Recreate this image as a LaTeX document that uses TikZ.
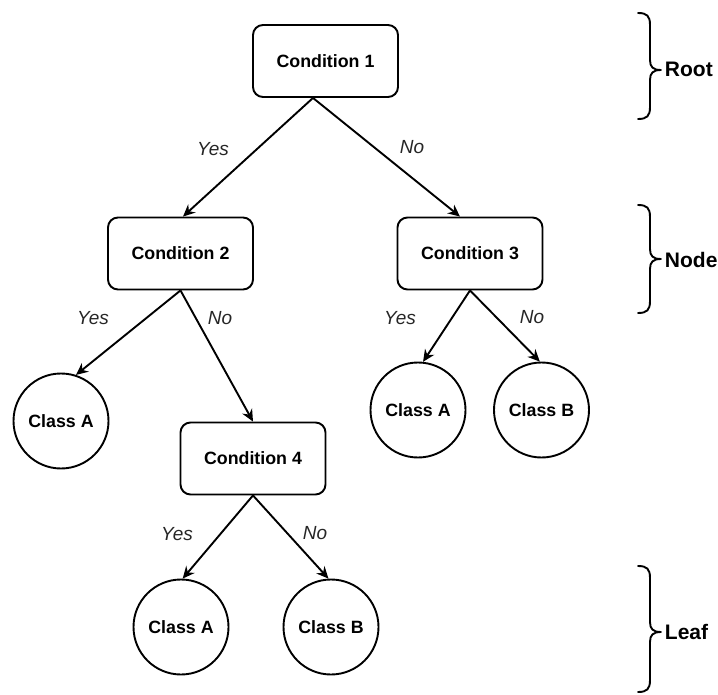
\documentclass[tikz,border=0pt]{standalone}
\usepackage{fontspec}
\setmainfont{Liberation Sans}
\usetikzlibrary{arrows.meta,calc}

% right-pointing curly brace: #1 top, #2 tip, #3 bottom
\newcommand\curlybrace[3]{%
  \draw[brace] (638,#1) .. controls (647,#1) and (650,{#1+3}) .. (650,{#1+12})
    -- (650,{#2-10}) .. controls (650,{#2-3}) and (653,#2) .. (661,#2)
    .. controls (653,#2) and (650,{#2+3}) .. (650,{#2+10})
    -- (650,{#3-12}) .. controls (650,{#3-3}) and (647,#3) .. (638,#3);}

\begin{document}
\begin{tikzpicture}[x=1pt,y=-1pt,
  line width=1.9pt,
  cond/.style={draw, rounded corners=10pt, minimum width=145pt, minimum height=72pt,
    inner sep=0pt, font=\fontsize{17.8}{20}\selectfont\bfseries},
  leaf/.style={draw, circle, minimum size=95pt, inner sep=0pt,
    font=\fontsize{17.8}{20}\selectfont\bfseries},
  edge/.style={-{Stealth[length=12pt,width=11pt,inset=4pt]}},
  ans/.style={font=\fontsize{19}{22}\selectfont\itshape, text=black!85},
  tier/.style={anchor=west, inner sep=0pt, font=\fontsize{21}{24}\selectfont\bfseries},
  brace/.style={line width=1.9pt, line cap=round, line join=round}
]
\useasboundingbox (0,0) rectangle (718,695);

% decision nodes
\node[cond] (c1) at (325.5,61) {Condition 1};
\node[cond] (c2) at (180.5,253.5) {Condition 2};
\node[cond] (c3) at (470,253.5) {Condition 3};
\node[cond] (c4) at (253,458.5) {Condition 4};

% leaves
\node[leaf] (a1) at (61,421) {Class A};
\node[leaf] (a2) at (418,410) {Class A};
\node[leaf] (b2) at (541.5,410) {Class B};
\node[leaf] (a3) at (181,627) {Class A};
\node[leaf] (b3) at (331,627) {Class B};

% branches
\draw[edge] ([xshift=-12.5pt]c1.south) -- ([xshift=2.5pt]c2.north);
\draw[edge] ([xshift=-12.5pt]c1.south) -- ([xshift=-10pt]c3.north);
\draw[edge] (c2.south) -- (a1.72);
\draw[edge] (c2.south) -- (c4.north);
\draw[edge] (c3.south) -- (a2.84);
\draw[edge] (c3.south) -- (b2.92);
\draw[edge] (c4.south) -- (a3.88);
\draw[edge] (c4.south) -- (b3.93);

% branch answers
\node[ans] (y1) at (213,149) {Yes};
\node[ans] (n1) at (412,147) {No};
\node[ans] (y2) at (93,318) {Yes};
\node[ans] (n2) at (220,318) {No};
\node[ans] (y3) at (400,318) {Yes};
\node[ans] (n3) at (532,317) {No};
\node[ans] (y4) at (177,534) {Yes};
\node[ans] (n4) at (315,533) {No};

% tree levels
\curlybrace{13}{70}{119}
\curlybrace{205}{259}{313}
\curlybrace{566}{632}{692}
\node[tier] (root) at (664,69) {Root};
\node[tier] (node) at (664,260) {Node};
\node[tier] (leafl) at (664,632) {Leaf};
\end{tikzpicture}
\end{document}
